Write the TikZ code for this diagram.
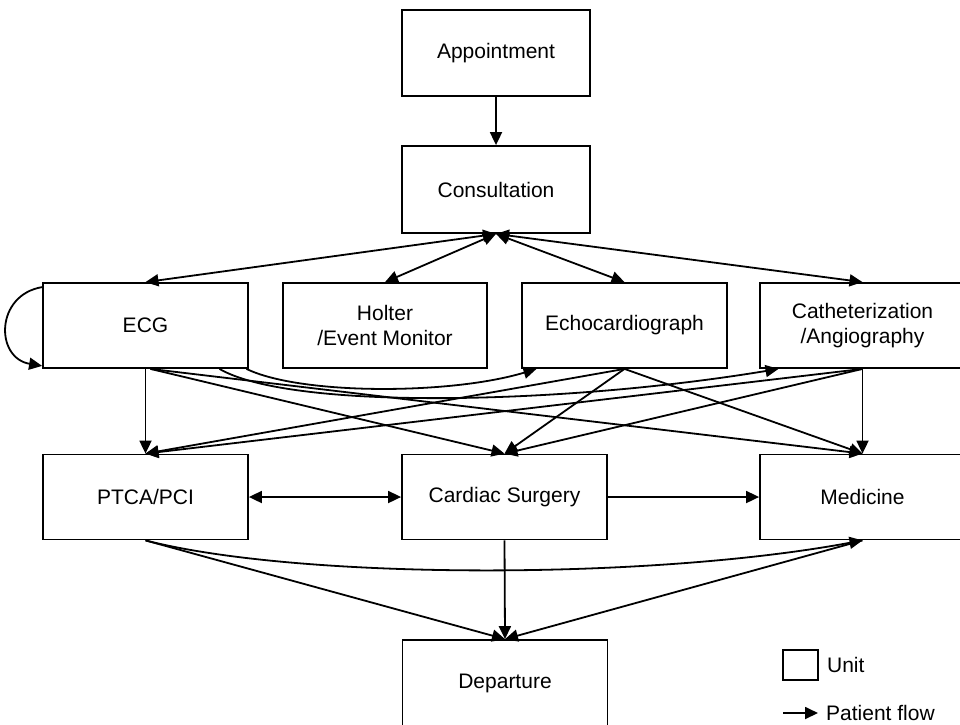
\documentclass[tikz,border=0pt]{standalone}
\usepackage{fontspec}
\setmainfont{Liberation Sans}
\usetikzlibrary{arrows.meta}

\tikzset{
  unit/.style={draw, line width=1.8pt, minimum width=205pt, minimum height=85pt,
    inner sep=2pt, align=center, font=\fontsize{21}{25}\selectfont},
  tip/.style={Triangle[length=13pt,width=12pt]},
  flow/.style={line width=1.8pt, -{Triangle[length=13pt,width=12pt]}},
  flow2/.style={line width=1.8pt, {Triangle[length=13pt,width=12pt]}-{Triangle[length=13pt,width=12pt]}},
  legendtext/.style={anchor=west, inner sep=0pt, font=\fontsize{21}{25}\selectfont}
}

\begin{document}
\begin{tikzpicture}[x=1pt, y=-1pt]
\useasboundingbox (0,0) rectangle (960,724);

% units
\node[unit, minimum width=188pt, minimum height=86pt] (appt) at (496,53) {Appointment};
\node[unit, minimum width=188pt, minimum height=87pt] (cons) at (496,189.5) {Consultation};
\node[unit] (ecg)    at (145.5,325.5) {ECG};
\node[unit, minimum width=204pt] (holter) at (385,325.5) {Holter\\/Event Monitor};
\node[unit] (echo)   at (624.5,325.5) {Echocardiograph};
\node[unit] (cath)   at (862.5,325.5) {Catheterization\\/Angiography};
\node[unit] (ptca)   at (145.5,497) {PTCA/PCI};
\node[unit] (cs)     at (504.5,497) {Cardiac Surgery};
\node[unit] (med)    at (862.5,497) {Medicine};
\node[unit, minimum height=86pt] (dep) at (505,683) {Departure};

% appointment and consultation
\draw[flow] (appt.south) -- (cons.north);
\draw[flow2] (cons.south) -- (ecg.north);
\draw[flow2] (cons.south) -- (holter.north);
\draw[flow2] (cons.south) -- (echo.north);
\draw[flow2] (cons.south) -- (cath.north);

% repeated ECG
\draw[flow] ([yshift=-5pt]ecg.north west) .. controls (-5,295) and (-5,358) .. ([yshift=3pt]ecg.south west);

% from ECG
\draw[flow] (ecg.south) -- (ptca.north);
\draw[flow] ([xshift=5pt]ecg.south) -- (cs.north);
\draw[flow] ([xshift=5pt]ecg.south) -- (med.north);
\draw[flow] ([xshift=101pt]ecg.south) .. controls (300,395) and (450,395) .. ([xshift=-88pt]echo.south);
\draw[flow] ([xshift=74pt]ecg.south) .. controls (290,410) and (560,405) .. ([xshift=-84pt]cath.south);

% from echocardiograph
\draw[flow] (echo.south) -- (ptca.north);
\draw[flow] (echo.south) -- (cs.north);
\draw[flow] (echo.south) -- (med.north);

% from catheterization
\draw[flow] (cath.south) -- (ptca.north);
\draw[flow] (cath.south) -- (cs.north);
\draw[flow] (cath.south) -- (med.north);

% treatment row
\draw[flow2] (ptca.east) -- (cs.west);
\draw[flow] (cs.east) -- (med.west);
\draw[flow] (ptca.south) .. controls (300,580) and (650,580) .. (med.south);

% to departure
\draw[flow] (ptca.south) -- (dep.north);
\draw[flow] (cs.south) -- (dep.north);
\draw[flow] (med.south) -- (dep.north);

% legend
\node[draw, line width=1.8pt, minimum width=35pt, minimum height=30pt, inner sep=0pt] (unitkey) at (800.5,665) {};
\node[legendtext] (unitlbl) at ([xshift=8pt]unitkey.east) {Unit};
\coordinate (flowa) at (783,713);
\coordinate (flowb) at (818,713);
\draw[flow] (flowa) -- (flowb);
\node[legendtext] (flowlbl) at ([xshift=8pt]flowb) {Patient flow};
\end{tikzpicture}
\end{document}
